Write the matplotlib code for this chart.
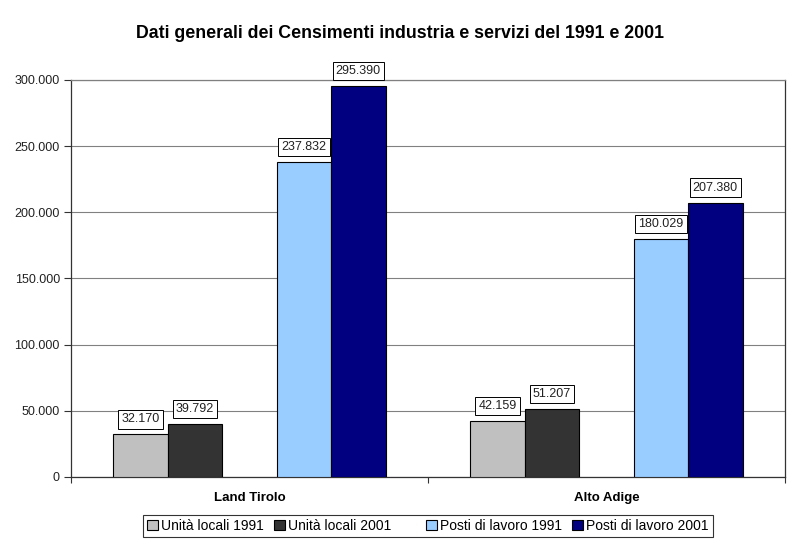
import numpy as np
import matplotlib.pyplot as plt
from matplotlib.patches import Patch
from matplotlib.ticker import FuncFormatter

plt.rcParams['font.family'] = ['Liberation Sans', 'DejaVu Sans']

# dati
categorie = ['Land Tirolo', 'Alto Adige']
serie = ['Unità locali 1991', 'Unità locali 2001', 'Posti di lavoro 1991', 'Posti di lavoro 2001']
unita_1991 = [32170, 42159]
unita_2001 = [39792, 51207]
posti_1991 = [237832, 180029]
posti_2001 = [295390, 207380]
colori = ['#C0C0C0', '#333333', '#99CCFF', '#000080']

valori = [unita_1991, unita_2001, posti_1991, posti_2001]
slot = [-2, -1, 1, 2]   # slot 0 vuoto (serie vuota di Excel)
w = 0.1524

def ita(v, pos=None):
    return f'{int(round(v)):,}'.replace(',', '.')

fig = plt.figure(figsize=(8, 5.54), dpi=100)
ax = fig.add_axes([0.08875, 0.139, 0.8925, 0.7166])

x = np.arange(len(categorie))
for vals, s, col, lab in zip(valori, slot, colori, serie):
    bars = ax.bar(x + s * w, vals, w, color=col, edgecolor='black', linewidth=0.8,
                  label=lab, zorder=3)
    for b, v in zip(bars, vals):
        ax.annotate(ita(v), (b.get_x() + b.get_width() / 2, v),
                    xytext=(0, 6.5), textcoords='offset points',
                    ha='center', va='bottom', fontsize=9, color='#222222', zorder=5,
                    bbox=dict(boxstyle='square,pad=0.25', fc='white', ec='black', lw=0.7))

ax.set_xlim(-0.5, 1.5)
ax.set_ylim(0, 300000)
ax.set_yticks(np.arange(0, 300001, 50000))
ax.yaxis.set_major_formatter(FuncFormatter(ita))
ax.yaxis.grid(True, color='#808080', lw=0.8, zorder=0)

ax.set_xticks([-0.5, 0.5, 1.5])
ax.set_xticklabels([])
ax.set_xticks(x, minor=True)
ax.set_xticklabels(categorie, minor=True, fontweight='bold', fontsize=9.5)
ax.tick_params(axis='x', which='minor', length=0, pad=11)
ax.tick_params(axis='x', which='major', length=4, color='#333333')
ax.tick_params(axis='y', length=5, labelsize=9, labelcolor='#222222', color='#333333', pad=3)

for sp in ax.spines.values():
    sp.set_color('#333333')
    sp.set_linewidth(0.9)
ax.spines['top'].set_color('#808080')

fig.text(0.5, 0.94, 'Dati generali dei Censimenti industria e servizi del 1991 e 2001',
         fontsize=12.8, fontweight='bold', ha='center', va='center')

handles = [Patch(fc=c, ec='black', lw=0.8) for c in colori]
blank = Patch(fc='none', ec='none')
h = handles[:2] + [blank] + handles[2:]
l = serie[:2] + [''] + serie[2:]
leg = fig.legend(h, l, loc='center', bbox_to_anchor=(0.535, 0.051), ncol=5,
                 fontsize=10, frameon=True, fancybox=False, edgecolor='black',
                 handlelength=0.75, handleheight=0.75, handletextpad=0.25,
                 columnspacing=0.75, borderpad=0.3)
leg.get_frame().set_linewidth(0.8)

fig.savefig('out.png', dpi=100)
